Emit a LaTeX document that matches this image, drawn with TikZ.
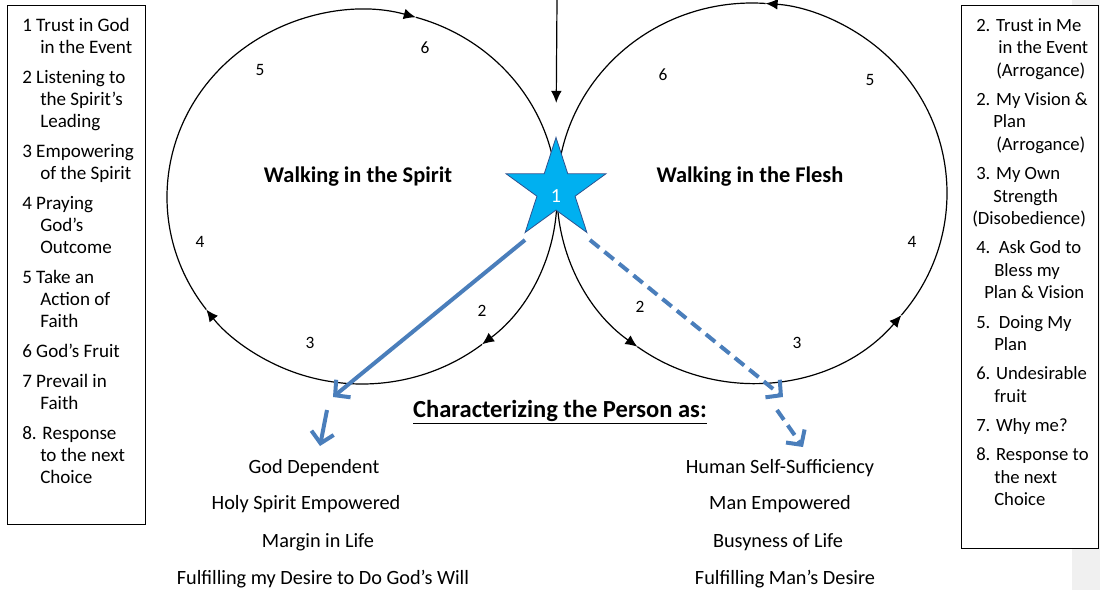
\documentclass[tikz,border=0pt]{standalone}
\usepackage{fontspec}
\setmainfont{Carlito}
\usetikzlibrary{positioning,arrows.meta,shapes.geometric}
\definecolor{cStar}{HTML}{00B0F0}
\definecolor{cStarEdge}{HTML}{2F528F}
\definecolor{cChoice}{HTML}{4A7EBB}
\definecolor{cBand}{HTML}{F0F0F0}
\tikzset{
  listFrame/.style={draw=black, line width=0.8pt, fill=white, anchor=north west,
                    inner sep=0pt},
  listText/.style={anchor=north west, align=left, inner sep=0pt,
                   font=\fontsize{14.3}{16.5}\selectfont},
  walkTitle/.style={font=\bfseries\fontsize{16.8}{19}\selectfont},
  stepNum/.style={font=\fontsize{13}{15}\selectfont, inner sep=0pt},
  trait/.style={font=\fontsize{15.2}{17}\selectfont, inner sep=0pt},
  cycleLine/.style={line width=0.9pt, draw=black},
  cycleTip/.style={cycleLine, -{Latex[length=9pt, width=8pt]}},
  choice/.style={line width=3pt, draw=cChoice, -{Straight Barb[length=8pt, width=17pt]}},
  choiceDash/.style={choice, dash pattern=on 9pt off 5pt},
}

\begin{document}
\begin{tikzpicture}[x=0.75pt, y=-0.75pt]
\useasboundingbox (0,0) rectangle (1100,590);
\fill[cBand] (1072,0) rectangle (1100,590);

% ========== CYCLES ==========
\coordinate (spiritC) at (362,197);
\coordinate (fleshC) at (752,193);

\foreach \a/\b in {0/52, 52/143, 143/286}
  \draw[cycleTip] ([shift={(\a:195 and 187)}]spiritC)
    arc[start angle=\a, end angle=\b, x radius=195, y radius=187];
\draw[cycleLine] ([shift={(286:195 and 187)}]spiritC)
  arc[start angle=286, end angle=360, x radius=195, y radius=187];

\foreach \a/\b in {180/126, 126/40, 40/-86}
  \draw[cycleTip] ([shift={(\a:195 and 190)}]fleshC)
    arc[start angle=\a, end angle=\b, x radius=195, y radius=190];
\draw[cycleLine] ([shift={(-86:195 and 190)}]fleshC)
  arc[start angle=-86, end angle=-180, x radius=195, y radius=190];

\foreach \n/\x/\y in {2/482/311, 3/310/343, 4/200/242, 5/260/70, 6/425/48}
  \node[stepNum] (sp\n) at (\x,\y) {\n};
\foreach \n/\x/\y in {2/640/307, 3/797/343, 4/912/242, 5/870/80, 6/663/75}
  \node[stepNum] (fl\n) at (\x,\y) {\n};

\node[walkTitle] (spiritTitle) at (358,177) {Walking in the Spirit};
\node[walkTitle] (fleshTitle) at (750,177) {Walking in the Flesh};

% ========== CHOICE POINT ==========
\node[star, star points=5, star point ratio=2.618, minimum size=78.75pt,
      inner sep=0pt, fill=cStar, draw=cStarEdge, line width=0.6pt,
      text=white, font=\fontsize{15}{17}\selectfont] (star) at (556,190)
      {\raisebox{-9pt}[0pt][0pt]{1}};
\coordinate (entry) at (557,0);
\draw[cycleLine, -{Latex[length=9pt, width=8pt]}, shorten >=25pt] (entry) -- (star.north);

\coordinate (spiritFrom) at (525,240);
\coordinate (spiritEnd) at (333,397);
\coordinate (spiritTwoFrom) at (327,410);
\coordinate (spiritTwoEnd) at (320,446);
\coordinate (fleshFrom) at (590,240);
\coordinate (fleshEnd) at (783,397);
\coordinate (fleshTwoFrom) at (777,410);
\coordinate (fleshTwoEnd) at (803,447);
\draw[choice] (spiritFrom) -- (spiritEnd);
\draw[choice] (spiritTwoFrom) -- (spiritTwoEnd);
\draw[choiceDash] (fleshFrom) -- (fleshEnd);
\draw[choiceDash] (fleshTwoFrom) -- (fleshTwoEnd);

\node[font=\bfseries\fontsize{18.4}{20}\selectfont] (persona) at (560,412)
  {\underline{Characterizing the Person as:}};

\foreach \t/\x/\y in {God Dependent/314/468, Holy Spirit Empowered/306/504,
                      Margin in Life/318/542, Fulfilling my Desire to Do God’s Will/323/579}
  \node[trait] at (\x,\y) {\t};
\foreach \t/\x/\y in {Human Self-Sufficiency/780/468, Man Empowered/780/504,
                      Busyness of Life/778/542, Fulfilling Man’s Desire/785/579}
  \node[trait] at (\x,\y) {\t};

% ========== LISTS ==========
\node[listFrame, minimum width=103.5pt, minimum height=389.25pt] (spiritBox) at (7,5) {};
\node[listText] (spiritList) at (22,18) {%
  1 Trust in God\\
  \hspace*{13.5pt}in the Event\\[6pt]
  2 Listening to\\
  \hspace*{13.5pt}the Spirit’s\\
  \hspace*{13.5pt}Leading\\[6pt]
  3 Empowering\\
  \hspace*{13.5pt}of the Spirit\\[6pt]
  4 Praying\\
  \hspace*{13.5pt}God’s\\
  \hspace*{13.5pt}Outcome\\[6pt]
  5 Take an\\
  \hspace*{13.5pt}Action of\\
  \hspace*{13.5pt}Faith\\[6pt]
  6 God’s Fruit\\[6pt]
  7 Prevail in\\
  \hspace*{13.5pt}Faith\\[6pt]
  8. Response\\
  \hspace*{13.5pt}to the next\\
  \hspace*{13.5pt}Choice};

\node[listFrame, minimum width=102.75pt, minimum height=407.25pt] (fleshBox) at (961,5) {};
\node[listText, font=\fontsize{14}{16.9}\selectfont] (fleshList) at (976,18) {%
  2. Trust in Me\\
  \hspace*{16.5pt}in the Event\\
  \hspace*{15pt}(Arrogance)\\[5pt]
  2. My Vision \&\\
  \hspace*{12.75pt}Plan\\
  \hspace*{15pt}(Arrogance)\\[5pt]
  3. My Own\\
  \hspace*{12.75pt}Strength\\
  \hspace*{-3pt}(Disobedience)\\[5pt]
  4.\ \ Ask God to\\
  \hspace*{13.5pt}Bless my\\
  \hspace*{6pt}Plan \& Vision\\[5pt]
  5.\ \ Doing My\\
  \hspace*{13.5pt}Plan\\[5pt]
  6. Undesirable\\
  \hspace*{13.5pt}fruit\\[5pt]
  7. Why me?\\[5pt]
  8. Response to\\
  \hspace*{13.5pt}the next\\
  \hspace*{13.5pt}Choice};

\end{tikzpicture}
\end{document}
